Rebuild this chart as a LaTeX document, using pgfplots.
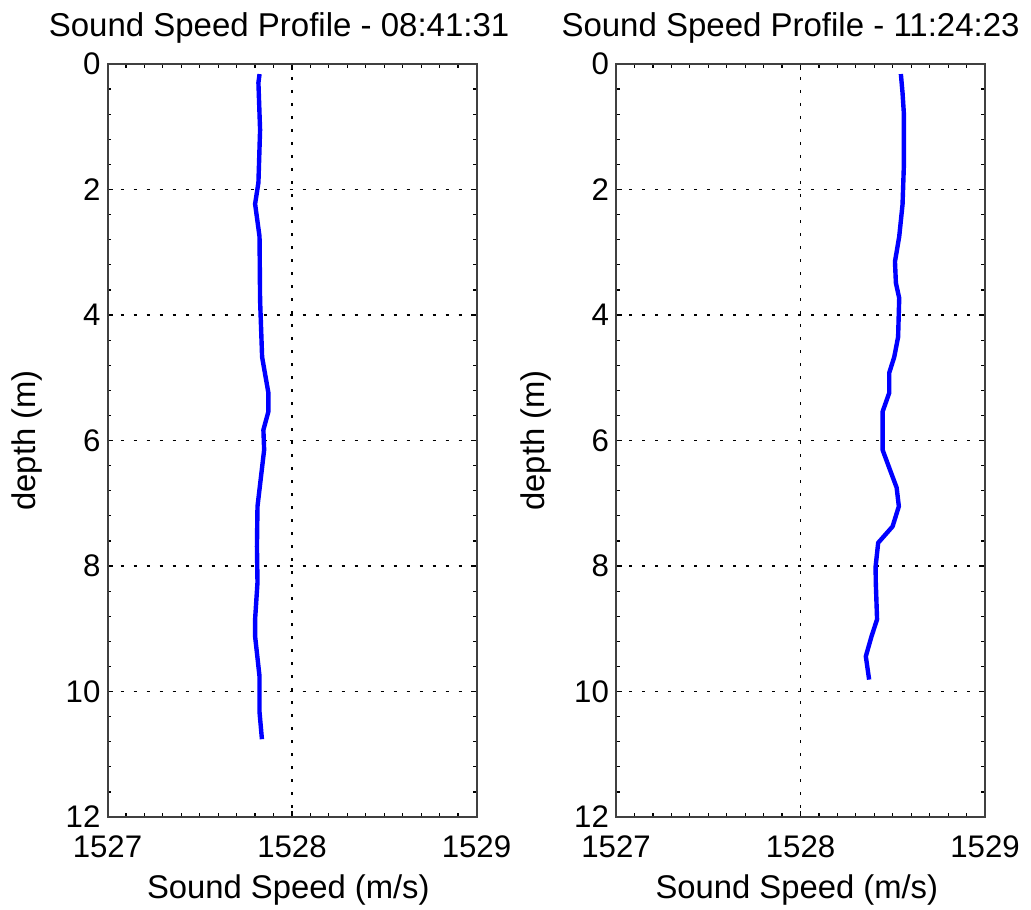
\documentclass[border=0pt]{standalone}
\usepackage{pgfplots}
\pgfplotsset{compat=1.18}
\usepackage{fontspec}
\setmainfont{Liberation Sans}

% Profiles: sound speed (m/s) against depth (m)
\pgfplotstableread{
c        z
1527.824 0.16
1527.818 0.30
1527.827 1.05
1527.818 1.89
1527.800 2.23
1527.824 2.75
1527.827 3.76
1527.838 4.67
1527.872 5.24
1527.872 5.54
1527.845 5.83
1527.849 6.15
1527.813 7.05
1527.810 7.69
1527.813 8.26
1527.800 8.85
1527.800 9.12
1527.824 9.76
1527.824 10.33
1527.837 10.76
}\profileA

\pgfplotstableread{
c        z
1528.544 0.16
1528.553 0.46
1528.560 0.78
1528.560 1.64
1528.553 2.24
1528.535 2.75
1528.512 3.15
1528.517 3.49
1528.535 3.73
1528.529 4.35
1528.508 4.67
1528.481 4.92
1528.481 5.24
1528.445 5.54
1528.445 6.15
1528.484 6.46
1528.521 6.75
1528.533 7.05
1528.499 7.37
1528.421 7.63
1528.407 8.01
1528.408 8.26
1528.415 8.85
1528.385 9.12
1528.354 9.44
1528.372 9.81
}\profileB

\pgfplotsset{
  ssp/.style={
    scale only axis, width=184.5pt, height=376.5pt,
    xmin=1527, xmax=1529, ymin=0, ymax=12, y dir=reverse,
    xtick={1527,1528,1529}, ytick={0,2,...,12},
    minor x tick num=9, minor y tick num=4,
    scaled x ticks=false,
    /pgf/number format/assume math mode=true,
    /pgf/number format/set thousands separator={},
    tick pos=both, tick align=inside,
    major tick length=3pt, minor tick length=2pt,
    axis line style={draw=black!75, line width=1pt},
    every tick/.style={black, line width=0.6pt},
    grid=major,
    major grid style={black, line width=0.8pt, dash pattern=on 1.5pt off 5pt},
    tick label style={font=\fontsize{15.6}{18}\selectfont},
    xticklabel style={anchor=base, yshift=-20pt},
    label style={font=\fontsize{16.4}{19}\selectfont},
    xlabel={Sound Speed (m/s)},
    ylabel={depth (m)},
    xlabel style={at={(axis description cs:0.49,-0.1076)}, anchor=base},
    ylabel style={at={(axis description cs:-0.1938,0.5)}, anchor=base},
    title style={font=\fontsize{16.5}{19}\selectfont, anchor=base, yshift=-6pt},
  },
  profile/.style={blue, line width=2.2pt, line join=round, no marks},
}

\begin{document}
\begin{tikzpicture}
\path[use as bounding box] (0,0) rectangle (515.5pt,454.5pt);

\begin{axis}[ssp, at={(53.75pt,46pt)}, anchor=south west,
  title={Sound Speed Profile - 08:41:31},
  title style={at={(axis description cs:0.465,1.0359)}}]
  \addplot[profile] table[x=c, y=z] {\profileA};
\end{axis}

\begin{axis}[ssp, at={(308pt,46pt)}, anchor=south west,
  title={Sound Speed Profile - 11:24:23},
  title style={at={(axis description cs:0.473,1.0359)}}]
  \addplot[profile] table[x=c, y=z] {\profileB};
\end{axis}
\end{tikzpicture}
\end{document}
